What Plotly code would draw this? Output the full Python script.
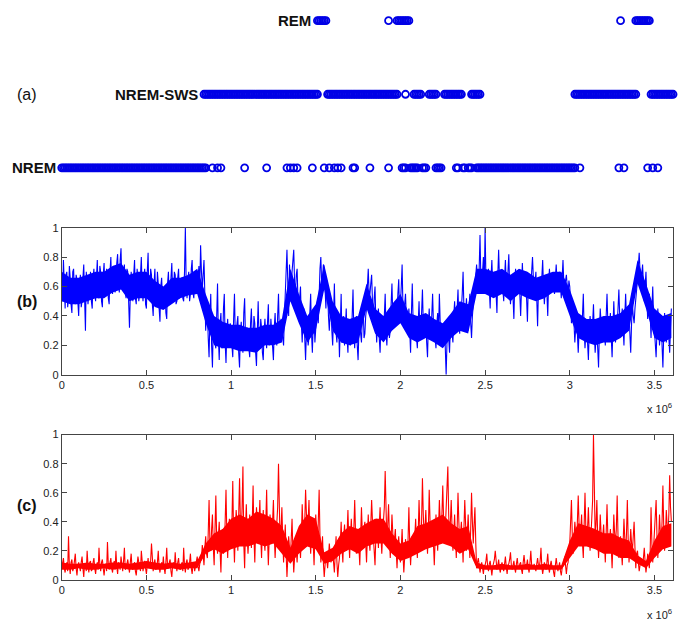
import numpy as np
import plotly.graph_objects as go

# ---------------- data ----------------
# values every 1e4 samples, plus the in-between samples (half step)
step_samples = 10000
epoch_samples = 10000
band_samples = 50000

# (b) blue trace values at 0, 1e4, 2e4 ... (10 per 0.1e6 block)
blue_vals = [
    0.62, 0.78, 0.45, 0.70, 0.52, 0.66, 0.42, 0.72, 0.48, 0.64,
    0.40, 0.68, 0.50, 0.75, 0.30, 0.62, 0.55, 0.70, 0.45, 0.72,
    0.50, 0.78, 0.52, 0.70, 0.46, 0.76, 0.55, 0.68, 0.48, 0.80,
    0.55, 0.74, 0.60, 0.82, 0.56, 0.86, 0.60, 0.75, 0.52, 0.70,
    0.32, 0.70, 0.50, 0.78, 0.48, 0.66, 0.55, 0.80, 0.50, 0.72,
    0.45, 0.83, 0.55, 0.68, 0.40, 0.72, 0.48, 0.62, 0.36, 0.66,
    0.45, 0.60, 0.38, 0.70, 0.48, 0.76, 0.52, 0.68, 0.50, 0.72,
    0.55, 0.66, 0.50, 1.00, 0.52, 0.70, 0.55, 0.78, 0.52, 0.68,
    0.55, 0.74, 0.88, 0.58, 0.78, 0.30, 0.45, 0.12, 0.55, 0.05,
    0.35, 0.18, 0.62, 0.10, 0.42, 0.20, 0.55, 0.08, 0.38, 0.22,
    0.32, 0.12, 0.55, 0.18, 0.40, 0.05, 0.36, 0.15, 0.52, 0.20,
    0.30, 0.12, 0.45, 0.20, 0.35, 0.06, 0.50, 0.18, 0.32, 0.10,
    0.38, 0.18, 0.48, 0.22, 0.30, 0.10, 0.42, 0.20, 0.55, 0.25,
    0.35, 0.20, 0.55, 0.85, 0.40, 0.62, 0.70, 0.85, 0.55, 0.72,
    0.40, 0.60, 0.22, 0.45, 0.10, 0.38, 0.25, 0.55, 0.15, 0.40,
    0.30, 0.50, 0.62, 0.80, 0.65, 0.72, 0.45, 0.60, 0.30, 0.48,
    0.20, 0.62, 0.28, 0.40, 0.12, 0.55, 0.30, 0.20, 0.45, 0.15,
    0.35, 0.25, 0.58, 0.18, 0.40, 0.10, 0.35, 0.22, 0.48, 0.28,
    0.45, 0.72, 0.55, 0.68, 0.35, 0.60, 0.22, 0.45, 0.15, 0.38,
    0.25, 0.55, 0.20, 0.42, 0.30, 0.62, 0.35, 0.50, 0.40, 0.65,
    0.48, 0.75, 0.35, 0.55, 0.30, 0.45, 0.15, 0.62, 0.25, 0.40,
    0.18, 0.50, 0.30, 0.58, 0.25, 0.40, 0.12, 0.45, 0.28, 0.55,
    0.32, 0.18, 0.42, 0.55, 0.30, 0.20, 0.36, 0.00, 0.30, 0.15,
    0.38, 0.22, 0.50, 0.30, 0.58, 0.28, 0.45, 0.70, 0.35, 0.52,
    0.30, 0.55, 0.25, 0.48, 0.62, 0.75, 0.60, 0.95, 0.58, 0.80,
    1.00, 0.55, 0.72, 0.45, 0.78, 0.55, 0.68, 0.42, 0.85, 0.60,
    0.70, 0.50, 0.78, 0.56, 0.82, 0.48, 0.66, 0.38, 0.72, 0.55,
    0.62, 0.40, 0.76, 0.58, 0.70, 0.36, 0.68, 0.55, 0.80, 0.60,
    0.70, 0.33, 0.65, 0.52, 0.78, 0.48, 0.68, 0.40, 0.72, 0.56,
    0.66, 0.55, 0.75, 0.58, 0.70, 0.52, 0.78, 0.60, 0.68, 0.55,
    0.60, 0.35, 0.50, 0.22, 0.42, 0.15, 0.38, 0.25, 0.55, 0.18,
    0.35, 0.10, 0.40, 0.22, 0.48, 0.15, 0.32, 0.05, 0.45, 0.25,
    0.38, 0.20, 0.55, 0.28, 0.42, 0.12, 0.50, 0.22, 0.35, 0.58,
    0.30, 0.45, 0.20, 0.55, 0.30, 0.42, 0.15, 0.48, 0.35, 0.55,
    0.65, 0.83, 0.62, 0.75, 0.50, 0.70, 0.38, 0.55, 0.25, 0.60,
    0.30, 0.12, 0.45, 0.20, 0.38, 0.05, 0.42, 0.22, 0.35, 0.15,
    0.45,
]
# (b) blue trace values at the half steps 5e3, 1.5e4, ...
blue_mid = [
    0.50, 0.58, 0.68, 0.46, 0.74, 0.48, 0.70, 0.55, 0.68, 0.50,
    0.60, 0.46, 0.66, 0.52, 0.70, 0.48, 0.64, 0.50, 0.66, 0.55,
    0.66, 0.55, 0.74, 0.50, 0.68, 0.58, 0.72, 0.52, 0.70, 0.58,
    0.68, 0.56, 0.76, 0.62, 0.78, 0.60, 0.70, 0.56, 0.72, 0.50,
    0.55, 0.62, 0.68, 0.52, 0.72, 0.50, 0.68, 0.58, 0.66, 0.48,
    0.70, 0.52, 0.72, 0.48, 0.62, 0.50, 0.70, 0.45, 0.60, 0.50,
    0.58, 0.42, 0.62, 0.50, 0.66, 0.55, 0.70, 0.48, 0.66, 0.52,
    0.62, 0.52, 0.70, 0.60, 0.66, 0.50, 0.72, 0.56, 0.66, 0.58,
    0.66, 0.58, 0.70, 0.68, 0.55, 0.42, 0.25, 0.40, 0.20, 0.35,
    0.22, 0.40, 0.25, 0.35, 0.18, 0.45, 0.22, 0.30, 0.20, 0.35,
    0.20, 0.38, 0.25, 0.35, 0.15, 0.30, 0.22, 0.42, 0.25, 0.32,
    0.18, 0.35, 0.22, 0.40, 0.15, 0.30, 0.25, 0.38, 0.15, 0.30,
    0.25, 0.35, 0.20, 0.38, 0.18, 0.32, 0.25, 0.40, 0.28, 0.38,
    0.25, 0.40, 0.70, 0.62, 0.75, 0.50, 0.78, 0.62, 0.68, 0.50,
    0.52, 0.35, 0.40, 0.25, 0.30, 0.20, 0.42, 0.28, 0.35, 0.22,
    0.40, 0.35, 0.72, 0.62, 0.75, 0.58, 0.62, 0.40, 0.42, 0.30,
    0.40, 0.35, 0.22, 0.35, 0.30, 0.22, 0.40, 0.32, 0.25, 0.38,
    0.20, 0.40, 0.28, 0.35, 0.20, 0.30, 0.28, 0.40, 0.25, 0.40,
    0.60, 0.55, 0.62, 0.50, 0.52, 0.35, 0.38, 0.25, 0.35, 0.25,
    0.40, 0.30, 0.35, 0.25, 0.48, 0.40, 0.45, 0.38, 0.55, 0.42,
    0.60, 0.45, 0.48, 0.38, 0.35, 0.30, 0.42, 0.35, 0.32, 0.25,
    0.35, 0.28, 0.42, 0.35, 0.30, 0.22, 0.35, 0.30, 0.40, 0.35,
    0.25, 0.35, 0.28, 0.35, 0.25, 0.30, 0.18, 0.22, 0.25, 0.32,
    0.28, 0.40, 0.35, 0.45, 0.38, 0.40, 0.55, 0.45, 0.42, 0.38,
    0.45, 0.35, 0.40, 0.55, 0.68, 0.62, 0.72, 0.65, 0.70, 0.60,
    0.65, 0.62, 0.58, 0.66, 0.60, 0.70, 0.55, 0.68, 0.65, 0.70,
    0.58, 0.66, 0.62, 0.70, 0.60, 0.58, 0.52, 0.62, 0.60, 0.66,
    0.55, 0.65, 0.62, 0.68, 0.52, 0.60, 0.62, 0.70, 0.66, 0.62,
    0.52, 0.58, 0.62, 0.66, 0.60, 0.58, 0.55, 0.62, 0.60, 0.64,
    0.60, 0.66, 0.62, 0.66, 0.60, 0.66, 0.62, 0.64, 0.60, 0.64,
    0.48, 0.42, 0.35, 0.32, 0.28, 0.30, 0.32, 0.40, 0.30, 0.28,
    0.22, 0.30, 0.32, 0.35, 0.28, 0.25, 0.18, 0.30, 0.35, 0.32,
    0.28, 0.40, 0.35, 0.35, 0.25, 0.32, 0.35, 0.30, 0.45, 0.40,
    0.38, 0.32, 0.40, 0.38, 0.35, 0.28, 0.35, 0.40, 0.45, 0.58,
    0.75, 0.70, 0.68, 0.62, 0.60, 0.52, 0.45, 0.40, 0.45, 0.40,
    0.20, 0.30, 0.32, 0.30, 0.20, 0.28, 0.32, 0.30, 0.25, 0.32,
]
# (b) dense core of the blue trace, every 0.05e6 samples
blue_core_lo = [
    0.50, 0.48, 0.48, 0.50, 0.52, 0.52, 0.56, 0.58, 0.50, 0.52,
    0.52, 0.46, 0.44, 0.48, 0.52, 0.54, 0.55, 0.35, 0.20, 0.18,
    0.18, 0.16, 0.16, 0.15, 0.20, 0.20, 0.22, 0.50, 0.35, 0.22,
    0.30, 0.58, 0.30, 0.22, 0.20, 0.22, 0.45, 0.28, 0.22, 0.30,
    0.35, 0.25, 0.22, 0.25, 0.22, 0.18, 0.25, 0.30, 0.28, 0.55,
    0.55, 0.52, 0.55, 0.50, 0.55, 0.52, 0.50, 0.52, 0.56, 0.56,
    0.40, 0.25, 0.22, 0.20, 0.22, 0.22, 0.25, 0.30, 0.62, 0.45,
    0.25, 0.22, 0.25,
]
blue_core_hi = [
    0.70, 0.66, 0.66, 0.68, 0.70, 0.70, 0.74, 0.76, 0.68, 0.70,
    0.70, 0.64, 0.60, 0.66, 0.66, 0.68, 0.72, 0.55, 0.40, 0.36,
    0.34, 0.34, 0.32, 0.32, 0.34, 0.34, 0.38, 0.72, 0.55, 0.40,
    0.48, 0.75, 0.50, 0.40, 0.38, 0.40, 0.62, 0.45, 0.40, 0.48,
    0.55, 0.42, 0.40, 0.42, 0.38, 0.35, 0.42, 0.50, 0.48, 0.72,
    0.72, 0.70, 0.72, 0.68, 0.72, 0.70, 0.66, 0.68, 0.70, 0.70,
    0.58, 0.42, 0.38, 0.38, 0.40, 0.40, 0.42, 0.48, 0.78, 0.62,
    0.45, 0.40, 0.42,
]

# (c) red trace values at 0, 1e4, 2e4 ... (10 per 0.1e6 block)
red_vals = [
    0.08, 0.15, 0.05, 0.12, 0.30, 0.04, 0.14, 0.08, 0.18, 0.03,
    0.12, 0.06, 0.16, 0.02, 0.10, 0.20, 0.05, 0.13, 0.07, 0.15,
    0.04, 0.12, 0.22, 0.06, 0.14, 0.03, 0.11, 0.26, 0.07, 0.15,
    0.05, 0.13, 0.20, 0.04, 0.10, 0.16, 0.06, 0.22, 0.08, 0.14,
    0.05, 0.18, 0.07, 0.12, 0.03, 0.16, 0.09, 0.20, 0.06, 0.13,
    0.04, 0.15, 0.10, 0.25, 0.06, 0.14, 0.08, 0.20, 0.05, 0.12,
    0.16, 0.04, 0.22, 0.08, 0.14, 0.02, 0.12, 0.19, 0.06, 0.15,
    0.07, 0.12, 0.22, 0.05, 0.14, 0.08, 0.18, 0.04, 0.12, 0.09,
    0.16, 0.06, 0.13, 0.24, 0.10, 0.30, 0.15, 0.55, 0.20, 0.45,
    0.10, 0.58, 0.18, 0.40, 0.05, 0.35, 0.22, 0.62, 0.15, 0.42,
    0.25, 0.68, 0.12, 0.48, 0.20, 0.70, 0.30, 0.78, 0.08, 0.52,
    0.18, 0.45, 0.22, 0.65, 0.12, 0.50, 0.25, 0.55, 0.15, 0.48,
    0.20, 0.62, 0.10, 0.45, 0.28, 0.55, 0.15, 0.40, 0.80, 0.22,
    0.50, 0.12, 0.38, 0.02, 0.30, 0.15, 0.42, 0.05, 0.25, 0.12,
    0.35, 0.15, 0.52, 0.22, 0.62, 0.30, 0.55, 0.18, 0.40, 0.10,
    0.45, 0.20, 0.62, 0.12, 0.30, 0.02, 0.18, 0.08, 0.25, 0.12,
    0.20, 0.05, 0.30, 0.02, 0.15, 0.40, 0.12, 0.38, 0.20, 0.48,
    0.15, 0.42, 0.22, 0.55, 0.18, 0.35, 0.10, 0.50, 0.25, 0.40,
    0.12, 0.45, 0.20, 0.55, 0.30, 0.10, 0.42, 0.22, 0.50, 0.18,
    0.40, 0.75, 0.25, 0.52, 0.15, 0.45, 0.20, 0.35, 0.08, 0.30,
    0.12, 0.35, 0.05, 0.28, 0.15, 0.50, 0.10, 0.30, 0.20, 0.42,
    0.15, 0.55, 0.22, 0.70, 0.30, 0.48, 0.18, 0.62, 0.25, 0.40,
    0.10, 0.45, 0.20, 0.55, 0.30, 0.65, 0.25, 0.50, 0.78, 0.28,
    0.55, 0.20, 0.45, 0.15, 0.60, 0.25, 0.40, 0.12, 0.55, 0.20,
    0.45, 0.15, 0.60, 0.25, 0.50, 0.08, 0.15, 0.05, 0.12, 0.04,
    0.10, 0.18, 0.06, 0.13, 0.03, 0.11, 0.20, 0.07, 0.14, 0.05,
    0.12, 0.06, 0.16, 0.04, 0.11, 0.19, 0.07, 0.13, 0.05, 0.15,
    0.08, 0.12, 0.04, 0.17, 0.09, 0.14, 0.05, 0.20, 0.08, 0.11,
    0.06, 0.15, 0.09, 0.22, 0.04, 0.12, 0.07, 0.18, 0.05, 0.13,
    0.09, 0.02, 0.15, 0.06, 0.12, 0.03, 0.10, 0.16, 0.04, 0.12,
    0.25, 0.55, 0.18, 0.40, 0.22, 0.58, 0.30, 0.45, 0.15, 0.60,
    0.25, 0.50, 0.20, 0.42, 1.00, 0.30, 0.55, 0.15, 0.45, 0.22,
    0.38, 0.12, 0.52, 0.20, 0.35, 0.08, 0.45, 0.25, 0.58, 0.15,
    0.30, 0.10, 0.42, 0.18, 0.55, 0.12, 0.35, 0.20, 0.40, 0.08,
    0.20, 0.06, 0.15, 0.10, 0.22, 0.05, 0.18, 0.08, 0.50, 0.12,
    0.35, 0.55, 0.15, 0.45, 0.25, 0.65, 0.20, 0.48, 0.30, 0.72,
    0.40,
]
# (c) red trace values at the half steps
red_mid = [
    0.12, 0.08, 0.10, 0.06, 0.10, 0.12, 0.06, 0.13, 0.08, 0.10,
    0.09, 0.12, 0.08, 0.11, 0.06, 0.10, 0.12, 0.06, 0.12, 0.08,
    0.10, 0.07, 0.10, 0.12, 0.08, 0.09, 0.06, 0.10, 0.12, 0.08,
    0.10, 0.07, 0.09, 0.12, 0.07, 0.10, 0.13, 0.07, 0.11, 0.09,
    0.12, 0.08, 0.11, 0.06, 0.10, 0.12, 0.06, 0.11, 0.10, 0.08,
    0.10, 0.08, 0.13, 0.08, 0.11, 0.07, 0.12, 0.09, 0.10, 0.08,
    0.08, 0.12, 0.09, 0.12, 0.06, 0.10, 0.08, 0.10, 0.12, 0.08,
    0.10, 0.06, 0.10, 0.12, 0.07, 0.12, 0.08, 0.10, 0.06, 0.12,
    0.09, 0.11, 0.15, 0.14, 0.22, 0.18, 0.32, 0.25, 0.35, 0.22,
    0.35, 0.28, 0.30, 0.20, 0.28, 0.18, 0.40, 0.30, 0.35, 0.25,
    0.40, 0.30, 0.32, 0.38, 0.45, 0.40, 0.50, 0.25, 0.35, 0.30,
    0.30, 0.35, 0.40, 0.30, 0.35, 0.38, 0.40, 0.30, 0.35, 0.28,
    0.40, 0.30, 0.28, 0.35, 0.40, 0.30, 0.28, 0.50, 0.45, 0.35,
    0.28, 0.25, 0.18, 0.15, 0.22, 0.28, 0.20, 0.15, 0.20, 0.25,
    0.25, 0.30, 0.35, 0.40, 0.45, 0.40, 0.32, 0.30, 0.25, 0.30,
    0.32, 0.40, 0.30, 0.18, 0.12, 0.10, 0.14, 0.15, 0.18, 0.16,
    0.12, 0.18, 0.12, 0.10, 0.25, 0.22, 0.30, 0.25, 0.32, 0.28,
    0.30, 0.28, 0.35, 0.32, 0.28, 0.22, 0.30, 0.32, 0.35, 0.25,
    0.30, 0.28, 0.38, 0.40, 0.22, 0.30, 0.35, 0.38, 0.30, 0.32,
    0.50, 0.40, 0.38, 0.30, 0.28, 0.32, 0.28, 0.20, 0.22, 0.18,
    0.22, 0.18, 0.15, 0.20, 0.28, 0.25, 0.22, 0.25, 0.30, 0.25,
    0.32, 0.35, 0.40, 0.45, 0.35, 0.30, 0.35, 0.40, 0.32, 0.25,
    0.28, 0.32, 0.35, 0.40, 0.45, 0.42, 0.35, 0.55, 0.45, 0.40,
    0.35, 0.32, 0.28, 0.35, 0.40, 0.32, 0.28, 0.35, 0.38, 0.32,
    0.28, 0.35, 0.40, 0.38, 0.25, 0.12, 0.10, 0.09, 0.08, 0.10,
    0.13, 0.09, 0.11, 0.08, 0.09, 0.14, 0.11, 0.10, 0.08, 0.10,
    0.08, 0.11, 0.09, 0.10, 0.14, 0.10, 0.10, 0.08, 0.11, 0.09,
    0.11, 0.07, 0.12, 0.11, 0.10, 0.08, 0.12, 0.10, 0.09, 0.08,
    0.11, 0.10, 0.13, 0.09, 0.08, 0.10, 0.12, 0.09, 0.10, 0.09,
    0.05, 0.10, 0.10, 0.09, 0.06, 0.08, 0.12, 0.09, 0.10, 0.18,
    0.40, 0.30, 0.28, 0.32, 0.40, 0.38, 0.35, 0.25, 0.38, 0.35,
    0.35, 0.32, 0.30, 0.55, 0.45, 0.38, 0.30, 0.28, 0.32, 0.30,
    0.25, 0.32, 0.30, 0.28, 0.22, 0.25, 0.32, 0.35, 0.30, 0.25,
    0.20, 0.25, 0.28, 0.32, 0.28, 0.22, 0.25, 0.30, 0.22, 0.18,
    0.12, 0.10, 0.12, 0.15, 0.12, 0.10, 0.12, 0.20, 0.25, 0.22,
    0.40, 0.30, 0.28, 0.32, 0.40, 0.35, 0.30, 0.38, 0.45, 0.50,
]
# (c) dense core of the red trace, every 0.05e6 samples
red_core_lo = [
    0.07, 0.07, 0.08, 0.07, 0.07, 0.08, 0.07, 0.08, 0.07, 0.07,
    0.08, 0.07, 0.07, 0.08, 0.07, 0.08, 0.08, 0.18, 0.21, 0.18,
    0.21, 0.23, 0.23, 0.25, 0.23, 0.25, 0.18, 0.11, 0.18, 0.23,
    0.21, 0.11, 0.13, 0.18, 0.21, 0.18, 0.23, 0.25, 0.25, 0.18,
    0.13, 0.15, 0.18, 0.21, 0.23, 0.25, 0.23, 0.18, 0.21, 0.08,
    0.07, 0.07, 0.07, 0.07, 0.07, 0.07, 0.07, 0.07, 0.07, 0.07,
    0.15, 0.23, 0.23, 0.21, 0.18, 0.18, 0.15, 0.15, 0.11, 0.08,
    0.15, 0.21, 0.23,
]
red_core_hi = [
    0.12, 0.11, 0.11, 0.12, 0.11, 0.11, 0.12, 0.12, 0.11, 0.12,
    0.13, 0.12, 0.11, 0.12, 0.11, 0.12, 0.13, 0.25, 0.32, 0.35,
    0.42, 0.45, 0.42, 0.47, 0.45, 0.42, 0.37, 0.22, 0.37, 0.45,
    0.42, 0.19, 0.22, 0.32, 0.37, 0.35, 0.39, 0.42, 0.42, 0.32,
    0.25, 0.27, 0.37, 0.39, 0.42, 0.45, 0.39, 0.35, 0.37, 0.12,
    0.10, 0.10, 0.11, 0.10, 0.10, 0.11, 0.10, 0.11, 0.10, 0.10,
    0.27, 0.39, 0.37, 0.35, 0.32, 0.32, 0.29, 0.27, 0.17, 0.13,
    0.27, 0.37, 0.39,
]

# (a) stage runs, in epochs (start, end) inclusive
rem_runs = [(151, 156), (193, 193), (198, 205), (330, 330), (339, 347)]
sws_runs = [(84, 151), (157, 198), (203, 203), (208, 212), (217, 221),
            (226, 236), (242, 247), (303, 339), (348, 362)]
nrem_runs = [(0, 85), (89, 89), (92, 92), (94, 94), (108, 108), (121, 121),
             (133, 133), (135, 135), (137, 137), (139, 139), (148, 148),
             (155, 155), (158, 158), (161, 161), (163, 163), (165, 165),
             (172, 173), (182, 182), (193, 193), (201, 203), (206, 210),
             (213, 215), (221, 224), (233, 234), (237, 238), (240, 242),
             (245, 303), (306, 306), (329, 329), (332, 332), (346, 346),
             (349, 349), (352, 352)]
stage_names = ["NREM", "NREM-SWS", "REM"]
stage_levels = [1, 2, 3]

x_tickvals = [0, 0.5e6, 1e6, 1.5e6, 2e6, 2.5e6, 3e6, 3.5e6]
x_ticktext = ["0", "0.5", "1", "1.5", "2", "2.5", "3", "3.5"]
y_tickvals = [0, 0.2, 0.4, 0.6, 0.8, 1]
y_ticktext = ["0", "0.2", "0.4", "0.6", "0.8", "1"]

# ---------------- figure ----------------
W, H = 687, 627
def px(xp):
    return xp / W
def py(yp):
    return 1 - yp / H

def expand(runs):
    out = []
    for s, e in runs:
        out.extend(range(s, e + 1))
    return np.array(out) * epoch_samples

def merge(vals, mids):
    n = len(vals)
    x = np.arange(2 * n - 1) * (step_samples / 2)
    y = np.empty(2 * n - 1)
    y[0::2] = vals
    y[1::2] = mids
    return x, y

xb = np.arange(len(blue_core_lo)) * band_samples

fig = go.Figure()

mcol = "#0000e6"
lblfont = dict(family="Liberation Sans, Arial, sans-serif", size=15, color="#111")
for name, lvl, runs in zip(stage_names, stage_levels, [nrem_runs, sws_runs, rem_runs]):
    xx = expand(runs)
    fig.add_trace(go.Scatter(
        x=xx, y=[lvl] * len(xx), mode="markers", xaxis="x", yaxis="y",
        marker=dict(symbol="circle-open", size=7, color=mcol, line=dict(width=1.8, color=mcol)),
        cliponaxis=False, showlegend=False, hoverinfo="skip"))
    fig.add_annotation(x=xx.min(), y=lvl, xref="x", yref="y", text="<b>%s</b>" % name,
                       showarrow=False, xanchor="right", yanchor="middle", xshift=-4,
                       font=lblfont)

def band(lo, hi, color, xa, ya):
    bx = np.concatenate([xb, xb[::-1]])
    by = np.concatenate([np.array(hi), np.array(lo)[::-1]])
    return go.Scatter(x=bx, y=by, mode="lines", fill="toself", fillcolor=color,
                      line=dict(width=0, color=color), xaxis=xa, yaxis=ya,
                      showlegend=False, hoverinfo="skip")

bx_, by_ = merge(blue_vals, blue_mid)
rx_, ry_ = merge(red_vals, red_mid)

fig.add_trace(band(blue_core_lo, blue_core_hi, "#0000ff", "x2", "y2"))
fig.add_trace(go.Scatter(x=bx_, y=by_, mode="lines", xaxis="x2", yaxis="y2",
                         line=dict(color="#0000ff", width=1.1), showlegend=False))
fig.add_trace(band(red_core_lo, red_core_hi, "#ff0000", "x3", "y3"))
fig.add_trace(go.Scatter(x=rx_, y=ry_, mode="lines", xaxis="x3", yaxis="y3",
                         line=dict(color="#ff0000", width=1.1), showlegend=False))

xdom = [px(59), px(673)]
tickfont = dict(family="Liberation Sans, Arial, sans-serif", size=11, color="#222")
axcommon = dict(showgrid=False, zeroline=False, showline=True, linecolor="#444", linewidth=1,
                mirror="ticks", ticks="inside", ticklen=5, tickcolor="#444", tickfont=tickfont)

fig.update_layout(
    width=W, height=H, margin=dict(l=0, r=0, t=0, b=0),
    paper_bgcolor="white", plot_bgcolor="white",
    xaxis=dict(domain=xdom, range=[0, 3.61e6], visible=False),
    yaxis=dict(domain=[py(165), py(15)], range=[1, 3], visible=False),
    xaxis2=dict(domain=xdom, range=[0, 3.61e6], anchor="y2", tickvals=x_tickvals,
                ticktext=x_ticktext, **axcommon),
    yaxis2=dict(domain=[py(376), py(226)], range=[0, 1], anchor="x2", tickvals=y_tickvals,
                ticktext=y_ticktext, **axcommon),
    xaxis3=dict(domain=xdom, range=[0, 3.61e6], anchor="y3", tickvals=x_tickvals,
                ticktext=x_ticktext, **axcommon),
    yaxis3=dict(domain=[py(585), py(437)], range=[0, 1], anchor="x3", tickvals=y_tickvals,
                ticktext=y_ticktext, **axcommon),
)

panfont = dict(family="Liberation Sans, Arial, sans-serif", size=16, color="#111")
fig.add_annotation(x=px(12), y=py(90), xref="paper", yref="paper", text="(a)", showarrow=False,
                   xanchor="left", yanchor="middle", font=panfont)
fig.add_annotation(x=px(12), y=py(301), xref="paper", yref="paper", text="<b>(b)</b>", showarrow=False,
                   xanchor="left", yanchor="middle", font=panfont)
fig.add_annotation(x=px(12), y=py(509), xref="paper", yref="paper", text="<b>(c)</b>", showarrow=False,
                   xanchor="left", yanchor="middle", font=panfont)

expfont = dict(family="Liberation Sans, Arial, sans-serif", size=11, color="#222")
for ytop in (401, 611):
    fig.add_annotation(x=px(674), y=py(ytop), xref="paper", yref="paper", text="x 10<sup>6</sup>",
                       showarrow=False, xanchor="right", yanchor="top", font=expfont)

fig.write_html("out.html", config={"displayModeBar": False},
               post_script="document.body.style.margin='0px';document.body.style.overflow='hidden';")
